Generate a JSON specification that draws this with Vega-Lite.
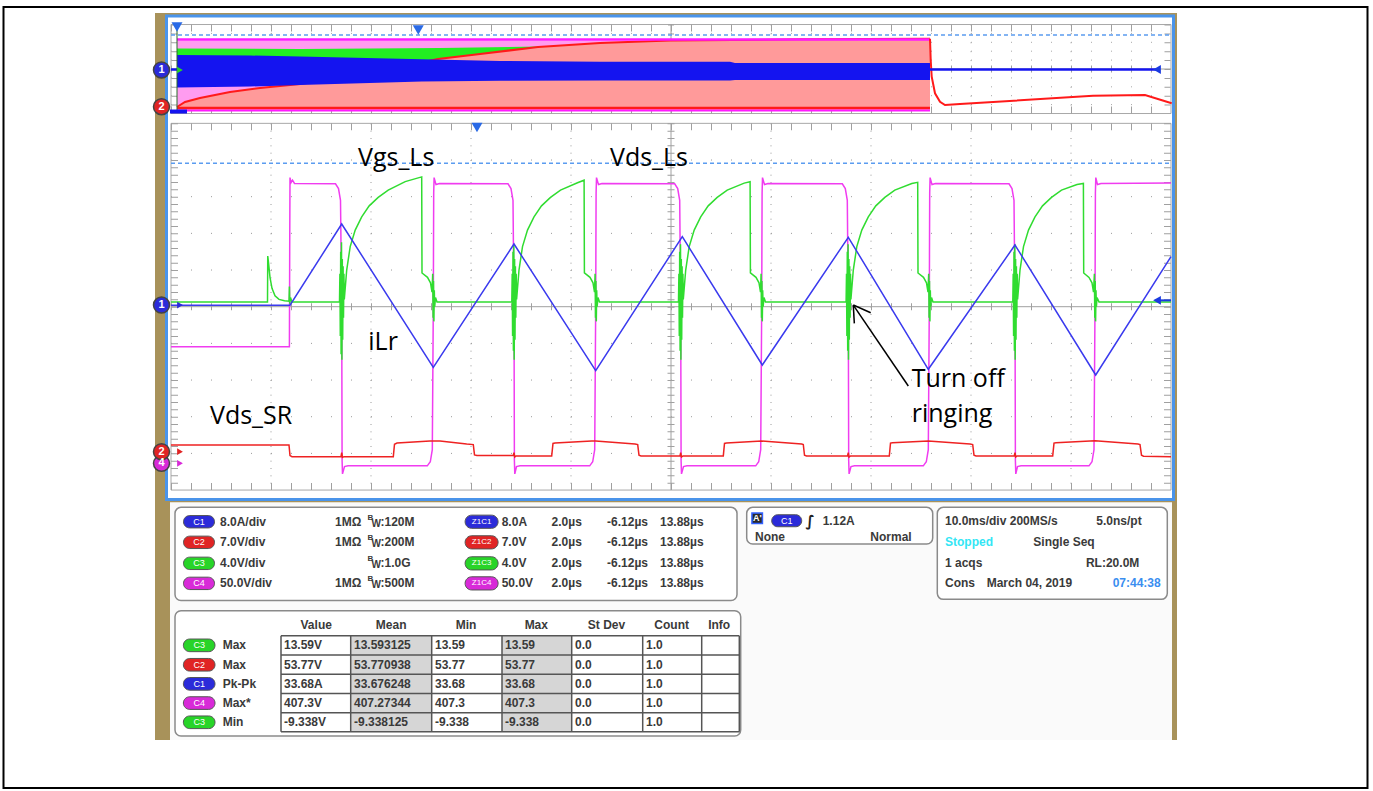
{
"$schema":"https://vega.github.io/schema/vega-lite/v6.json",
"width":1373,"height":791,
"autosize":{"type":"fit","contains":"padding"},
"padding":0,
"background":"white",
"config":{"view":{"stroke":null},"axis":{"disable":true},"text":{"font":"Liberation Sans"}},
"datasets":{
"gv":[{"t":-4.12},{"t":-2.12},{"t":-0.12},{"t":1.88},{"t":5.88},{"t":7.88},{"t":9.88},{"t":11.88}],
"gh":[{"d":-4},{"d":-3},{"d":-2},{"d":-1},{"d":1},{"d":2},{"d":3},{"d":4}],
"ogh":[{"d":5.511},{"d":5.754},{"d":5.996},{"d":6.239},{"d":6.725},{"d":6.968},{"d":7.21},{"d":7.453}],
"frames":[{"t":-6.12,"t2":13.88,"d":5,"d2":-5},{"t":-6.12,"t2":13.88,"d":7.695,"d2":5.268}],
"centers":[{"t":-6.12,"t2":13.88,"d":0,"d2":0},{"t":3.88,"t2":3.88,"d":5,"d2":-5},{"t":-6.12,"t2":13.88,"d":6.482,"d2":6.482},{"t":3.88,"t2":3.88,"d":7.695,"d2":5.268}],
"hticks":[{"d":0},{"d":4.905},{"d":-4.905},{"d":6.482},{"d":7.6},{"d":5.363}],
"vticks":[{"t":3.88},{"t":-6.05},{"t":13.81}],
"ov_pink":[{"t":-6.0,"d":7.259,"d2":5.364},{"t":9.06,"d":7.259,"d2":5.364}],
"ov_green":[{"t":-6.0,"d":7.041,"d2":6.318},{"t":-3.54,"d":7.027,"d2":6.318},{"t":-0.74,"d":7.055,"d2":6.318},{"t":1.26,"d":7.096,"d2":6.318},{"t":1.66,"d":7.1,"d2":6.318}],
"ov_red":[{"t":-6.0,"d":5.446,"d2":5.405},{"t":-5.84,"d":5.582,"d2":5.405},{"t":-5.54,"d":5.691,"d2":5.405},{"t":-4.94,"d":5.855,"d2":5.405},{"t":-4.34,"d":5.964,"d2":5.405},{"t":-3.54,"d":6.073,"d2":5.405},{"t":-2.54,"d":6.264,"d2":5.405},{"t":-1.54,"d":6.537,"d2":5.405},{"t":-0.78,"d":6.755,"d2":5.405},{"t":0.06,"d":6.891,"d2":5.405},{"t":1.22,"d":7.082,"d2":5.405},{"t":2.46,"d":7.191,"d2":5.405},{"t":3.86,"d":7.259,"d2":5.405},{"t":6.46,"d":7.292,"d2":5.405},{"t":9.06,"d":7.305,"d2":5.405}],
"ov_redtail":[{"t":9.06,"d":7.305},{"t":9.074,"d":6.727},{"t":9.094,"d":6.272},{"t":9.16,"d":5.819},{"t":9.26,"d":5.59},{"t":9.36,"d":5.5},{"t":9.66,"d":5.527},{"t":12.32,"d":5.754},{"t":13.36,"d":5.773},{"t":13.894,"d":5.546}],
"ov_blue":[{"t":-6.0,"d":6.864,"d2":5.977},{"t":-4.54,"d":6.85,"d2":6.005},{"t":-3.54,"d":6.823,"d2":6.045},{"t":-1.106,"d":6.747,"d2":6.141},{"t":0.46,"d":6.7,"d2":6.163},{"t":2.46,"d":6.681,"d2":6.168},{"t":5.06,"d":6.681,"d2":6.168},{"t":5.16,"d":6.645,"d2":6.182},{"t":9.06,"d":6.645,"d2":6.182}],
"dashes":[{"d":3.91},{"d":7.409}],
"ilr":[{"t":-6.12,"d":0.04},{"t":-3.74,"d":0.04},{"t":-2.706,"d":2.255},{"t":-0.874,"d":-1.653},{"t":0.74,"d":1.71},{"t":2.374,"d":-1.745},{"t":4.106,"d":1.909},{"t":5.706,"d":-1.59},{"t":7.426,"d":1.893},{"t":9.026,"d":-1.707},{"t":10.76,"d":1.683},{"t":12.374,"d":-1.863},{"t":13.88,"d":1.364}],
"vds":[{"t":-6.12,"d":-1.09},{"t":-3.752,"d":-1.09},{"t":-3.746,"d":1.5},{"t":-3.74,"d":3.52},{"t":-3.72,"d":3.38},{"t":-3.69,"d":3.45},{"t":-3.65,"d":3.36},
{"t":-2.83,"d":3.35},{"t":-2.77,"d":3.22},{"t":-2.73,"d":2.9},{"t":-2.706,"d":0},{"t":-2.698,"d":-4.2},{"t":-2.69,"d":-4.56},{"t":-2.65,"d":-4.36},{"t":-2.58,"d":-4.34},
{"t":-0.994,"d":-4.34},{"t":-0.934,"d":-4.23},{"t":-0.894,"d":-3.9},{"t":-0.874,"d":0},{"t":-0.866,"d":3.1},{"t":-0.858,"d":3.52},{"t":-0.82,"d":3.33},{"t":-0.75,"d":3.36},
{"t":0.62,"d":3.35},{"t":0.68,"d":3.22},{"t":0.72,"d":2.9},{"t":0.74,"d":0},{"t":0.748,"d":-4.2},{"t":0.756,"d":-4.56},{"t":0.79,"d":-4.36},{"t":0.86,"d":-4.34},
{"t":2.254,"d":-4.34},{"t":2.314,"d":-4.23},{"t":2.354,"d":-3.9},{"t":2.374,"d":0},{"t":2.382,"d":3.1},{"t":2.39,"d":3.52},{"t":2.43,"d":3.33},{"t":2.5,"d":3.36},
{"t":3.954,"d":3.35},{"t":4.014,"d":3.22},{"t":4.054,"d":2.9},{"t":4.074,"d":0},{"t":4.082,"d":-4.2},{"t":4.09,"d":-4.56},{"t":4.13,"d":-4.36},{"t":4.2,"d":-4.34},
{"t":5.574,"d":-4.34},{"t":5.634,"d":-4.23},{"t":5.674,"d":-3.9},{"t":5.694,"d":0},{"t":5.702,"d":3.1},{"t":5.71,"d":3.52},{"t":5.75,"d":3.33},{"t":5.82,"d":3.36},
{"t":7.306,"d":3.35},{"t":7.366,"d":3.22},{"t":7.406,"d":2.9},{"t":7.426,"d":0},{"t":7.434,"d":-4.2},{"t":7.442,"d":-4.56},{"t":7.48,"d":-4.36},{"t":7.55,"d":-4.34},
{"t":8.926,"d":-4.34},{"t":8.986,"d":-4.23},{"t":9.026,"d":-3.9},{"t":9.046,"d":0},{"t":9.054,"d":3.1},{"t":9.062,"d":3.52},{"t":9.1,"d":3.33},{"t":9.17,"d":3.36},
{"t":10.64,"d":3.35},{"t":10.7,"d":3.22},{"t":10.74,"d":2.9},{"t":10.76,"d":0},{"t":10.768,"d":-4.2},{"t":10.776,"d":-4.56},{"t":10.81,"d":-4.36},{"t":10.88,"d":-4.34},
{"t":12.24,"d":-4.34},{"t":12.3,"d":-4.23},{"t":12.34,"d":-3.9},{"t":12.36,"d":0},{"t":12.368,"d":3.1},{"t":12.376,"d":3.52},{"t":12.41,"d":3.33},{"t":12.48,"d":3.36},
{"t":13.88,"d":3.37}],
"vsr":[{"t":-6.12,"d":-3.773},{"t":-3.76,"d":-3.773},{"t":-3.74,"d":-4.06},{"t":-3.7,"d":-4.092},{"t":-2.72,"d":-4.09},{"t":-2.706,"d":-3.98},{"t":-2.69,"d":-4.11},{"t":-2.66,"d":-4.09},{"t":-1.674,"d":-4.09},{"t":-1.65,"d":-3.75},{"t":-1.6,"d":-3.72},{"t":-0.94,"d":-3.663},{"t":-0.74,"d":-3.66},{"t":-0.206,"d":-3.745},{"t":-0.074,"d":-3.76},{"t":-0.05,"d":-4.04},{"t":0.0,"d":-4.06},{"t":0.725,"d":-4.06},{"t":0.74,"d":-3.98},{"t":0.755,"d":-4.1},{"t":0.78,"d":-4.07},{"t":1.494,"d":-4.07},{"t":1.52,"d":-3.73},{"t":1.56,"d":-3.72},{"t":2.294,"d":-3.663},{"t":2.374,"d":-3.66},{"t":3.16,"d":-3.745},{"t":3.214,"d":-3.76},{"t":3.24,"d":-4.05},{"t":3.28,"d":-4.07},{"t":4.06,"d":-4.07},{"t":4.074,"d":-3.98},{"t":4.09,"d":-4.1},{"t":4.12,"d":-4.07},{"t":4.926,"d":-4.07},{"t":4.95,"d":-3.73},{"t":4.99,"d":-3.72},{"t":5.694,"d":-3.663},{"t":6.494,"d":-3.745},{"t":6.526,"d":-3.76},{"t":6.55,"d":-4.05},{"t":6.59,"d":-4.07},{"t":7.41,"d":-4.07},{"t":7.426,"d":-3.98},{"t":7.44,"d":-4.1},{"t":7.47,"d":-4.07},{"t":8.246,"d":-4.07},{"t":8.27,"d":-3.72},{"t":8.31,"d":-3.71},{"t":9.026,"d":-3.663},{"t":9.86,"d":-3.745},{"t":9.914,"d":-3.76},{"t":9.94,"d":-4.05},{"t":9.98,"d":-4.07},{"t":10.745,"d":-4.07},{"t":10.76,"d":-3.98},{"t":10.775,"d":-4.1},{"t":10.8,"d":-4.07},{"t":11.514,"d":-4.07},{"t":11.54,"d":-3.72},{"t":11.58,"d":-3.71},{"t":12.36,"d":-3.655},{"t":13.22,"d":-3.745},{"t":13.26,"d":-3.76},{"t":13.29,"d":-4.05},{"t":13.33,"d":-4.075},{"t":13.88,"d":-4.09}],
"vgs":[{"t":-6.12,"d":0.13},{"t":-4.19,"d":0.13},{"t":-4.185,"d":1.38},{"t":-4.17,"d":1.2},{"t":-4.14,"d":0.8},{"t":-4.1,"d":0.5},{"t":-4.04,"d":0.3},{"t":-3.96,"d":0.2},{"t":-3.85,"d":0.16},{"t":-3.76,"d":0.15},{"t":-3.752,"d":0.55},{"t":-3.744,"d":0.08},{"t":-3.73,"d":0.25},{"t":-3.7,"d":0.13},
{"t":-2.75,"d":0.13},{"t":-2.742,"d":0.9},{"t":-2.734,"d":-0.8},{"t":-2.726,"d":1.5},{"t":-2.718,"d":-1.3},{"t":-2.71,"d":1.76},{"t":-2.702,"d":-1.45},{"t":-2.694,"d":1.3},{"t":-2.686,"d":-0.9},{"t":-2.678,"d":1.1},{"t":-2.67,"d":-0.3},{"t":-2.662,"d":0.9},{"t":-2.654,"d":0.2},
{"t":-2.606,"d":1.0},{"t":-2.536,"d":1.64},{"t":-2.436,"d":2.09},{"t":-2.306,"d":2.45},{"t":-2.156,"d":2.75},{"t":-1.976,"d":2.98},{"t":-1.776,"d":3.18},{"t":-1.436,"d":3.41},{"t":-1.106,"d":3.54},
{"t":-1.1,"d":0.92},{"t":-0.99,"d":0.8},{"t":-0.93,"d":0.65},{"t":-0.9,"d":0.4},{"t":-0.886,"d":0.9},{"t":-0.878,"d":-0.3},{"t":-0.87,"d":0.7},{"t":-0.862,"d":-0.4},{"t":-0.854,"d":0.45},{"t":-0.846,"d":0.0},{"t":-0.83,"d":0.25},{"t":-0.8,"d":0.13},
{"t":0.696,"d":0.13},{"t":0.704,"d":0.9},{"t":0.712,"d":-0.8},{"t":0.72,"d":1.5},{"t":0.728,"d":-1.2},{"t":0.736,"d":1.7},{"t":0.744,"d":-1.45},{"t":0.752,"d":1.3},{"t":0.76,"d":-0.9},{"t":0.768,"d":1.1},{"t":0.776,"d":-0.3},{"t":0.784,"d":0.9},{"t":0.792,"d":0.2},
{"t":0.84,"d":1.0},{"t":0.91,"d":1.64},{"t":1.01,"d":2.09},{"t":1.14,"d":2.45},{"t":1.29,"d":2.75},{"t":1.47,"d":2.98},{"t":1.67,"d":3.18},{"t":2.01,"d":3.38},{"t":2.142,"d":3.45},
{"t":2.148,"d":0.92},{"t":2.26,"d":0.8},{"t":2.32,"d":0.65},{"t":2.35,"d":0.4},{"t":2.362,"d":0.9},{"t":2.37,"d":-0.3},{"t":2.378,"d":0.7},{"t":2.386,"d":-0.4},{"t":2.394,"d":0.45},{"t":2.402,"d":0.0},{"t":2.42,"d":0.25},{"t":2.45,"d":0.13},
{"t":4.03,"d":0.13},{"t":4.038,"d":0.9},{"t":4.046,"d":-0.8},{"t":4.054,"d":1.5},{"t":4.062,"d":-1.2},{"t":4.07,"d":1.7},{"t":4.078,"d":-1.45},{"t":4.086,"d":1.3},{"t":4.094,"d":-0.9},{"t":4.102,"d":1.1},{"t":4.11,"d":-0.3},{"t":4.118,"d":0.9},{"t":4.126,"d":0.2},
{"t":4.174,"d":1.0},{"t":4.244,"d":1.64},{"t":4.344,"d":2.09},{"t":4.474,"d":2.45},{"t":4.624,"d":2.75},{"t":4.804,"d":2.98},{"t":5.004,"d":3.18},{"t":5.344,"d":3.37},{"t":5.462,"d":3.41},
{"t":5.468,"d":0.92},{"t":5.58,"d":0.8},{"t":5.64,"d":0.65},{"t":5.67,"d":0.4},{"t":5.682,"d":0.9},{"t":5.69,"d":-0.3},{"t":5.698,"d":0.7},{"t":5.706,"d":-0.4},{"t":5.714,"d":0.45},{"t":5.722,"d":0.0},{"t":5.74,"d":0.25},{"t":5.77,"d":0.13},
{"t":7.382,"d":0.13},{"t":7.39,"d":0.9},{"t":7.398,"d":-0.8},{"t":7.406,"d":1.5},{"t":7.414,"d":-1.2},{"t":7.422,"d":1.7},{"t":7.43,"d":-1.45},{"t":7.438,"d":1.3},{"t":7.446,"d":-0.9},{"t":7.454,"d":1.1},{"t":7.462,"d":-0.3},{"t":7.47,"d":0.9},{"t":7.478,"d":0.2},
{"t":7.526,"d":1.0},{"t":7.596,"d":1.64},{"t":7.696,"d":2.09},{"t":7.826,"d":2.45},{"t":7.976,"d":2.75},{"t":8.156,"d":2.98},{"t":8.356,"d":3.18},{"t":8.696,"d":3.36},{"t":8.814,"d":3.39},
{"t":8.82,"d":0.92},{"t":8.93,"d":0.8},{"t":8.99,"d":0.65},{"t":9.02,"d":0.4},{"t":9.034,"d":0.9},{"t":9.042,"d":-0.3},{"t":9.05,"d":0.7},{"t":9.058,"d":-0.4},{"t":9.066,"d":0.45},{"t":9.074,"d":0.0},{"t":9.09,"d":0.25},{"t":9.12,"d":0.13},
{"t":10.716,"d":0.13},{"t":10.724,"d":0.9},{"t":10.732,"d":-0.8},{"t":10.74,"d":1.5},{"t":10.748,"d":-1.2},{"t":10.756,"d":1.7},{"t":10.764,"d":-1.45},{"t":10.772,"d":1.3},{"t":10.78,"d":-0.9},{"t":10.788,"d":1.1},{"t":10.796,"d":-0.3},{"t":10.804,"d":0.9},{"t":10.812,"d":0.2},
{"t":10.86,"d":1.0},{"t":10.93,"d":1.64},{"t":11.03,"d":2.09},{"t":11.16,"d":2.45},{"t":11.31,"d":2.75},{"t":11.49,"d":2.98},{"t":11.69,"d":3.18},{"t":12.0,"d":3.33},{"t":12.128,"d":3.36},
{"t":12.134,"d":0.92},{"t":12.24,"d":0.8},{"t":12.3,"d":0.65},{"t":12.33,"d":0.4},{"t":12.348,"d":0.9},{"t":12.356,"d":-0.3},{"t":12.364,"d":0.7},{"t":12.372,"d":-0.4},{"t":12.38,"d":0.45},{"t":12.388,"d":0.0},{"t":12.4,"d":0.25},{"t":12.44,"d":0.13},
{"t":13.88,"d":0.13}],
"labels":[{"label":"Vgs_Ls","t":-2.38,"d":3.836},{"label":"Vds_Ls","t":2.66,"d":3.836},{"label":"iLr","t":-2.174,"d":-1.182},{"label":"Vds_SR","t":-5.34,"d":-3.2},{"label":"Turn off","t":8.694,"d":-2.183},{"label":"ringing","t":8.694,"d":-3.137}],
"arrow":[{"t":8.626,"d":-2.163,"t2":7.526,"d2":0.045},{"t":7.526,"d":0.045,"t2":7.874,"d2":-0.165},{"t":7.526,"d":0.045,"t2":7.546,"d2":-0.454}],
"trig":[{"t":-6.0,"d":7.627},{"t":-1.174,"d":7.545},{"t":0.0,"d":4.886}],
"rarrow":[{"t":13.6,"d":6.468},{"t":13.6,"d":0.173}],
"chmarks":[{"ch":"C1","label":"1","t":-6.31,"d":6.455},{"ch":"C2","label":"2","t":-6.31,"d":5.454},{"ch":"C1","label":"1","t":-6.31,"d":0.045},{"ch":"C4","label":"4","t":-6.31,"d":-4.272},{"ch":"C2","label":"2","t":-6.31,"d":-3.955}],
"charrows":[{"ch":"C1","t":-5.94,"d":0.045},{"ch":"C2","t":-5.94,"d":-3.955},{"ch":"C4","t":-5.94,"d":-4.272},{"ch":"C3","t":-5.94,"d":6.455}],
"panels":[{"t":-6.04,"t2":5.2,"d":-5.472,"d2":-8.013},{"t":5.394,"t2":9.114,"d":-5.472,"d2":-6.473},{"t":9.206,"t2":13.806,"d":-5.472,"d2":-7.981},{"t":-6.04,"t2":5.274,"d":-8.292,"d2":-11.709}],
"settings":[{"ch":"C1","zch":"Z1C1","d":-5.864,"scale":"8.0A/div","imp":"1MΩ","bw":":120M","zscale":"8.0A","zpos":"2.0µs","start":"-6.12µs","end":"13.88µs"},
{"ch":"C2","zch":"Z1C2","d":-6.426,"scale":"7.0V/div","imp":"1MΩ","bw":":200M","zscale":"7.0V","zpos":"2.0µs","start":"-6.12µs","end":"13.88µs"},
{"ch":"C3","zch":"Z1C3","d":-6.999,"scale":"4.0V/div","imp":"","bw":":1.0G","zscale":"4.0V","zpos":"2.0µs","start":"-6.12µs","end":"13.88µs"},
{"ch":"C4","zch":"Z1C4","d":-7.545,"scale":"50.0V/div","imp":"1MΩ","bw":":500M","zscale":"50.0V","zpos":"2.0µs","start":"-6.12µs","end":"13.88µs"}],
"meas":[{"ch":"C3","m":"Max","v":"13.59V","mean":"13.593125","min":"13.59","max":"13.59","sd":"0.0","n":"1.0","d":-9.235},
{"ch":"C2","m":"Max","v":"53.77V","mean":"53.770938","min":"53.77","max":"53.77","sd":"0.0","n":"1.0","d":-9.765},
{"ch":"C1","m":"Pk-Pk","v":"33.68A","mean":"33.676248","min":"33.68","max":"33.68","sd":"0.0","n":"1.0","d":-10.285},
{"ch":"C4","m":"Max*","v":"407.3V","mean":"407.27344","min":"407.3","max":"407.3","sd":"0.0","n":"1.0","d":-10.809},
{"ch":"C3","m":"Min","v":"-9.338V","mean":"-9.338125","min":"-9.338","max":"-9.338","sd":"0.0","n":"1.0","d":-11.333}],
"hdr":[{"h":"Value","t":-3.216},{"h":"Mean","t":-1.716},{"h":"Min","t":-0.22},{"h":"Max","t":1.186},{"h":"St Dev","t":2.59},{"h":"Count","t":3.894},{"h":"Info","t":4.844}],
"tcols":[{"t":-3.92},{"t":-2.526},{"t":-0.906},{"t":0.5},{"t":1.894},{"t":3.314},{"t":4.494},{"t":5.246}],
"trows":[{"d":-8.974},{"d":-9.5},{"d":-10.026},{"d":-10.545},{"d":-11.074},{"d":-11.592}],
"gray":[{"t":-2.526,"t2":-0.906},{"t":0.5,"t2":1.894}],
"info_l":[{"txt":"10.0ms/div 200MS/s","t":9.36,"d":-5.837},{"txt":"Single Seq","t":11.126,"d":-6.41},{"txt":"1 acqs","t":9.36,"d":-6.999},{"txt":"Cons","t":9.36,"d":-7.545},{"txt":"March 04, 2019","t":10.194,"d":-7.545},{"txt":"1.12A","t":6.914,"d":-5.837},{"txt":"None","t":5.56,"d":-6.29}],
"info_r":[{"txt":"5.0ns/pt","t":13.294,"d":-5.837},{"txt":"RL:20.0M","t":13.246,"d":-6.999},{"txt":"Normal","t":8.694,"d":-6.29}]
},
"layer":[
{"data":{"values":[{}]},"mark":{"type":"rect","fill":"white","stroke":"black","strokeWidth":2},"encoding":{"x":{"datum":-9.47,"type":"quantitative","scale":{"domain":[-9.54,17.92],"nice":false,"zero":false}},"x2":{"datum":17.81},"y":{"datum":8.173,"type":"quantitative","scale":{"domain":[-13.207,8.3637],"nice":false,"zero":false}},"y2":{"datum":-13.127}}},
{"data":{"values":[{}]},"mark":{"type":"rect","fill":"#a8925a"},"encoding":{"x":{"datum":-6.44,"type":"quantitative"},"x2":{"datum":14.0},"y":{"datum":8.009,"type":"quantitative"},"y2":{"datum":-11.818}}},
{"data":{"values":[{}]},"mark":{"type":"rect","fill":"white","stroke":"#4a94ea","strokeWidth":3},"encoding":{"x":{"datum":-6.21,"type":"quantitative"},"x2":{"datum":13.93},"y":{"datum":7.927,"type":"quantitative"},"y2":{"datum":-5.259}}},
{"data":{"values":[{}]},"mark":{"type":"rect","fill":"#fafafa"},"encoding":{"x":{"datum":-6.14,"type":"quantitative"},"x2":{"datum":13.9},"y":{"datum":-5.33,"type":"quantitative"},"y2":{"datum":-11.818}}},
{"data":{"name":"gv"},"mark":{"type":"rule","color":"#9a9a9a","strokeWidth":1,"strokeDash":[1,6.333]},"encoding":{"x":{"field":"t","type":"quantitative"},"y":{"datum":5,"type":"quantitative"},"y2":{"datum":-5}}},
{"data":{"name":"gh"},"mark":{"type":"rule","color":"#9a9a9a","strokeWidth":1,"strokeDash":[1,19]},"encoding":{"x":{"datum":-6.12,"type":"quantitative"},"x2":{"datum":13.88},"y":{"field":"d","type":"quantitative"}}},
{"data":{"name":"gv"},"mark":{"type":"rule","color":"#a8a8a8","strokeWidth":1,"strokeDash":[1,7.9]},"encoding":{"x":{"field":"t","type":"quantitative"},"y":{"datum":7.695,"type":"quantitative"},"y2":{"datum":5.268}}},
{"data":{"name":"ogh"},"mark":{"type":"rule","color":"#a8a8a8","strokeWidth":1,"strokeDash":[1,19]},"encoding":{"x":{"datum":-6.12,"type":"quantitative"},"x2":{"datum":13.88},"y":{"field":"d","type":"quantitative"}}},
{"data":{"name":"frames"},"mark":{"type":"rect","fill":"transparent","stroke":"#a8a8a8","strokeWidth":1},"encoding":{"x":{"field":"t","type":"quantitative"},"x2":{"field":"t2"},"y":{"field":"d","type":"quantitative"},"y2":{"field":"d2"}}},
{"data":{"name":"centers"},"mark":{"type":"rule","color":"#a0a0a0","strokeWidth":1},"encoding":{"x":{"field":"t","type":"quantitative"},"x2":{"field":"t2"},"y":{"field":"d","type":"quantitative"},"y2":{"field":"d2"}}},
{"data":{"name":"hticks"},"mark":{"type":"rule","color":"#a0a0a0","strokeWidth":7,"strokeDash":[1,19]},"encoding":{"x":{"datum":-6.12,"type":"quantitative"},"x2":{"datum":13.88},"y":{"field":"d","type":"quantitative"}}},
{"data":{"name":"vticks"},"mark":{"type":"rule","color":"#a0a0a0","strokeWidth":7,"strokeDash":[1,6.333]},"encoding":{"x":{"field":"t","type":"quantitative"},"y":{"datum":5,"type":"quantitative"},"y2":{"datum":-5}}},
{"data":{"name":"vticks"},"mark":{"type":"rule","color":"#a0a0a0","strokeWidth":6,"strokeDash":[1,7.9]},"encoding":{"x":{"field":"t","type":"quantitative"},"y":{"datum":7.695,"type":"quantitative"},"y2":{"datum":5.268}}},
{"data":{"name":"ov_pink"},"mark":{"type":"area","color":"#ff9cf0","opacity":1},"encoding":{"x":{"field":"t","type":"quantitative"},"y":{"field":"d","type":"quantitative"},"y2":{"field":"d2"}}},
{"data":{"name":"ov_green"},"mark":{"type":"area","color":"#22ee22","opacity":1},"encoding":{"x":{"field":"t","type":"quantitative"},"y":{"field":"d","type":"quantitative"},"y2":{"field":"d2"}}},
{"data":{"name":"ov_red"},"mark":{"type":"area","color":"#ff9a9a","opacity":1},"encoding":{"x":{"field":"t","type":"quantitative"},"y":{"field":"d","type":"quantitative"},"y2":{"field":"d2"}}},
{"data":{"name":"ov_red"},"mark":{"type":"line","color":"#ff1a1a","strokeWidth":2},"encoding":{"x":{"field":"t","type":"quantitative"},"y":{"field":"d","type":"quantitative"}}},
{"data":{"name":"ov_blue"},"mark":{"type":"area","color":"#1414f0","opacity":1},"encoding":{"x":{"field":"t","type":"quantitative"},"y":{"field":"d","type":"quantitative"},"y2":{"field":"d2"}}},
{"data":{"values":[{}]},"mark":{"type":"rule","color":"#ff1aff","strokeWidth":2.5},"encoding":{"x":{"datum":-6.0,"type":"quantitative"},"x2":{"datum":9.06},"y":{"datum":7.286,"type":"quantitative"}}},
{"data":{"values":[{}]},"mark":{"type":"rule","color":"#ff1aff","strokeWidth":2},"encoding":{"x":{"datum":-6.0,"type":"quantitative"},"x2":{"datum":9.06},"y":{"datum":5.35,"type":"quantitative"}}},
{"data":{"values":[{}]},"mark":{"type":"rule","color":"#ff1a1a","strokeWidth":2.5},"encoding":{"x":{"datum":-6.0,"type":"quantitative"},"x2":{"datum":9.06},"y":{"datum":5.418,"type":"quantitative"}}},
{"data":{"name":"ov_redtail"},"mark":{"type":"line","color":"#ff1a1a","strokeWidth":2},"encoding":{"x":{"field":"t","type":"quantitative"},"y":{"field":"d","type":"quantitative"}}},
{"data":{"values":[{}]},"mark":{"type":"rule","color":"#1414f0","strokeWidth":2.5},"encoding":{"x":{"datum":9.06,"type":"quantitative"},"x2":{"datum":13.66},"y":{"datum":6.468,"type":"quantitative"}}},
{"data":{"values":[{}]},"mark":{"type":"rule","color":"#1414f0","strokeWidth":2.5},"encoding":{"x":{"datum":-6.12,"type":"quantitative"},"x2":{"datum":-6.0},"y":{"datum":6.468,"type":"quantitative"}}},
{"data":{"values":[{}]},"mark":{"type":"rule","color":"#2b6b2b","strokeWidth":1},"encoding":{"x":{"datum":-6.0,"type":"quantitative"},"y":{"datum":7.655,"type":"quantitative"},"y2":{"datum":5.364}}},
{"data":{"values":[{}]},"mark":{"type":"rect","fill":"#1414f0"},"encoding":{"x":{"datum":-6.14,"type":"quantitative"},"x2":{"datum":-5.8},"y":{"datum":5.377,"type":"quantitative"},"y2":{"datum":5.268}}},
{"data":{"name":"dashes"},"mark":{"type":"rule","color":"#5b9cf0","strokeWidth":1.5,"strokeDash":[4,3]},"encoding":{"x":{"datum":-6.12,"type":"quantitative"},"x2":{"datum":13.88},"y":{"field":"d","type":"quantitative"}}},
{"data":{"name":"vds"},"mark":{"type":"line","color":"#f03cf0","strokeWidth":1.5},"encoding":{"x":{"field":"t","type":"quantitative"},"y":{"field":"d","type":"quantitative"}}},
{"data":{"name":"vsr"},"mark":{"type":"line","color":"#ee2222","strokeWidth":1.5},"encoding":{"x":{"field":"t","type":"quantitative"},"y":{"field":"d","type":"quantitative"}}},
{"data":{"name":"vgs"},"mark":{"type":"line","color":"#30dc30","strokeWidth":1.5},"encoding":{"x":{"field":"t","type":"quantitative"},"y":{"field":"d","type":"quantitative"}}},
{"data":{"name":"ilr"},"mark":{"type":"line","color":"#3a3aee","strokeWidth":1.5},"encoding":{"x":{"field":"t","type":"quantitative"},"y":{"field":"d","type":"quantitative"}}},
{"data":{"values":[{}]},"mark":{"type":"rule","color":"#1a3ae0","strokeWidth":2},"encoding":{"x":{"datum":13.6,"type":"quantitative"},"x2":{"datum":13.88},"y":{"datum":0.173,"type":"quantitative"}}},
{"data":{"name":"rarrow"},"mark":{"type":"point","shape":"triangle-left","filled":true,"size":80,"color":"#1a3ae0","opacity":1},"encoding":{"x":{"field":"t","type":"quantitative"},"y":{"field":"d","type":"quantitative"}}},
{"data":{"name":"trig"},"mark":{"type":"point","shape":"triangle-down","filled":true,"size":120,"color":"#2a6ae6","opacity":1},"encoding":{"x":{"field":"t","type":"quantitative"},"y":{"field":"d","type":"quantitative"}}},
{"data":{"name":"charrows"},"mark":{"type":"point","shape":"triangle-right","filled":true,"size":45,"opacity":1},"encoding":{"x":{"field":"t","type":"quantitative"},"y":{"field":"d","type":"quantitative"},"color":{"field":"ch","type":"nominal","scale":{"domain":["C1","C2","C3","C4"],"range":["#2b2bd9","#e02424","#28d428","#d82ad8"]},"legend":null}}},
{"data":{"name":"chmarks"},"mark":{"type":"point","shape":"circle","filled":true,"size":256,"stroke":"#444444","strokeWidth":1.5,"opacity":1},"encoding":{"x":{"field":"t","type":"quantitative"},"y":{"field":"d","type":"quantitative"},"color":{"field":"ch","type":"nominal","scale":{"domain":["C1","C2","C3","C4"],"range":["#2b2bd9","#e02424","#28d428","#d82ad8"]},"legend":null}}},
{"data":{"name":"chmarks"},"mark":{"type":"text","color":"white","fontSize":11,"fontWeight":"bold","align":"center","baseline":"middle"},"encoding":{"x":{"field":"t","type":"quantitative"},"y":{"field":"d","type":"quantitative"},"text":{"field":"label"}}},
{"data":{"name":"labels"},"mark":{"type":"text","font":"Open Sans","fontSize":25,"color":"black","align":"left","baseline":"alphabetic"},"encoding":{"x":{"field":"t","type":"quantitative"},"y":{"field":"d","type":"quantitative"},"text":{"field":"label"}}},
{"data":{"name":"arrow"},"mark":{"type":"rule","color":"black","strokeWidth":1.5},"encoding":{"x":{"field":"t","type":"quantitative"},"x2":{"field":"t2"},"y":{"field":"d","type":"quantitative"},"y2":{"field":"d2"}}},
{"data":{"name":"panels"},"mark":{"type":"rect","fill":"white","stroke":"#8a8a8a","strokeWidth":1.5,"cornerRadius":6},"encoding":{"x":{"field":"t","type":"quantitative"},"x2":{"field":"t2"},"y":{"field":"d","type":"quantitative"},"y2":{"field":"d2"}}},
{"data":{"name":"settings"},"mark":{"type":"point","shape":"M-0.6,-0.4L0.6,-0.4A0.4,0.4,0,0,1,0.6,0.4L-0.6,0.4A0.4,0.4,0,0,1,-0.6,-0.4Z","filled":true,"size":961,"stroke":"#555555","strokeWidth":1,"opacity":1},"encoding":{"x":{"datum":-5.56,"type":"quantitative"},"y":{"field":"d","type":"quantitative"},"color":{"field":"ch","type":"nominal","scale":{"domain":["C1","C2","C3","C4"],"range":["#2b2bd9","#e02424","#28d428","#d82ad8"]},"legend":null}}},
{"data":{"name":"settings"},"mark":{"type":"text","color":"white","fontSize":9,"align":"center","baseline":"middle"},"encoding":{"x":{"datum":-5.56,"type":"quantitative"},"y":{"field":"d","type":"quantitative"},"text":{"field":"ch"}}},
{"data":{"name":"settings"},"mark":{"type":"point","shape":"M-0.6,-0.4L0.6,-0.4A0.4,0.4,0,0,1,0.6,0.4L-0.6,0.4A0.4,0.4,0,0,1,-0.6,-0.4Z","filled":true,"size":1089,"stroke":"#555555","strokeWidth":1,"opacity":1},"encoding":{"x":{"datum":0.092,"type":"quantitative"},"y":{"field":"d","type":"quantitative"},"color":{"field":"ch","type":"nominal","scale":{"domain":["C1","C2","C3","C4"],"range":["#2b2bd9","#e02424","#28d428","#d82ad8"]},"legend":null}}},
{"data":{"name":"settings"},"mark":{"type":"text","color":"white","fontSize":8,"align":"center","baseline":"middle"},"encoding":{"x":{"datum":0.092,"type":"quantitative"},"y":{"field":"d","type":"quantitative"},"text":{"field":"zch"}}},
{"data":{"name":"settings"},"mark":{"type":"text","fontSize":12,"fontWeight":"bold","color":"#3a3a3a","align":"left","baseline":"middle"},"encoding":{"x":{"datum":-5.14,"type":"quantitative"},"y":{"field":"d","type":"quantitative"},"text":{"field":"scale"}}},
{"data":{"name":"settings"},"mark":{"type":"text","fontSize":12,"fontWeight":"bold","color":"#3a3a3a","align":"left","baseline":"middle"},"encoding":{"x":{"datum":-2.84,"type":"quantitative"},"y":{"field":"d","type":"quantitative"},"text":{"field":"imp"}}},
{"data":{"name":"settings"},"mark":{"type":"text","fontSize":8,"fontWeight":"bold","color":"#3a3a3a","align":"left","baseline":"middle","dy":-4,"text":"B"},"encoding":{"x":{"datum":-2.188,"type":"quantitative"},"y":{"field":"d","type":"quantitative"}}},
{"data":{"name":"settings"},"mark":{"type":"text","fontSize":10,"fontWeight":"bold","color":"#3a3a3a","align":"left","baseline":"middle","dy":2,"text":"W"},"encoding":{"x":{"datum":-2.11,"type":"quantitative"},"y":{"field":"d","type":"quantitative"}}},
{"data":{"name":"settings"},"mark":{"type":"text","fontSize":12,"fontWeight":"bold","color":"#3a3a3a","align":"left","baseline":"middle"},"encoding":{"x":{"datum":-1.93,"type":"quantitative"},"y":{"field":"d","type":"quantitative"},"text":{"field":"bw"}}},
{"data":{"name":"settings"},"mark":{"type":"text","fontSize":12,"fontWeight":"bold","color":"#3a3a3a","align":"left","baseline":"middle"},"encoding":{"x":{"datum":0.494,"type":"quantitative"},"y":{"field":"d","type":"quantitative"},"text":{"field":"zscale"}}},
{"data":{"name":"settings"},"mark":{"type":"text","fontSize":12,"fontWeight":"bold","color":"#3a3a3a","align":"left","baseline":"middle"},"encoding":{"x":{"datum":1.492,"type":"quantitative"},"y":{"field":"d","type":"quantitative"},"text":{"field":"zpos"}}},
{"data":{"name":"settings"},"mark":{"type":"text","fontSize":12,"fontWeight":"bold","color":"#3a3a3a","align":"left","baseline":"middle"},"encoding":{"x":{"datum":2.602,"type":"quantitative"},"y":{"field":"d","type":"quantitative"},"text":{"field":"start"}}},
{"data":{"name":"settings"},"mark":{"type":"text","fontSize":12,"fontWeight":"bold","color":"#3a3a3a","align":"left","baseline":"middle"},"encoding":{"x":{"datum":3.66,"type":"quantitative"},"y":{"field":"d","type":"quantitative"},"text":{"field":"end"}}},
{"data":{"values":[{}]},"mark":{"type":"point","shape":"square","filled":true,"size":110,"color":"#2a2a2a","stroke":"#3060ff","strokeWidth":1.5,"opacity":1},"encoding":{"x":{"datum":5.604,"type":"quantitative"},"y":{"datum":-5.772,"type":"quantitative"}}},
{"data":{"values":[{}]},"mark":{"type":"text","text":"A'","color":"white","fontSize":9,"fontWeight":"bold","align":"center","baseline":"middle"},"encoding":{"x":{"datum":5.604,"type":"quantitative"},"y":{"datum":-5.772,"type":"quantitative"}}},
{"data":{"values":[{"ch":"C1"}]},"mark":{"type":"point","shape":"M-0.6,-0.4L0.6,-0.4A0.4,0.4,0,0,1,0.6,0.4L-0.6,0.4A0.4,0.4,0,0,1,-0.6,-0.4Z","filled":true,"size":900,"stroke":"#555555","strokeWidth":1,"opacity":1},"encoding":{"x":{"datum":6.194,"type":"quantitative"},"y":{"datum":-5.837,"type":"quantitative"},"color":{"field":"ch","type":"nominal","scale":{"domain":["C1","C2","C3","C4"],"range":["#2b2bd9","#e02424","#28d428","#d82ad8"]},"legend":null}}},
{"data":{"values":[{}]},"mark":{"type":"text","text":"C1","color":"white","fontSize":9,"align":"center","baseline":"middle"},"encoding":{"x":{"datum":6.194,"type":"quantitative"},"y":{"datum":-5.837,"type":"quantitative"}}},
{"data":{"values":[{}]},"mark":{"type":"text","text":"∫","color":"#222222","fontSize":15,"fontWeight":"bold","align":"center","baseline":"middle","font":"DejaVu Sans"},"encoding":{"x":{"datum":6.66,"type":"quantitative"},"y":{"datum":-5.837,"type":"quantitative"}}},
{"data":{"name":"info_l"},"mark":{"type":"text","fontSize":12,"fontWeight":"bold","color":"#3a3a3a","align":"left","baseline":"middle"},"encoding":{"x":{"field":"t","type":"quantitative"},"y":{"field":"d","type":"quantitative"},"text":{"field":"txt"}}},
{"data":{"name":"info_r"},"mark":{"type":"text","fontSize":12,"fontWeight":"bold","color":"#3a3a3a","align":"right","baseline":"middle"},"encoding":{"x":{"field":"t","type":"quantitative"},"y":{"field":"d","type":"quantitative"},"text":{"field":"txt"}}},
{"data":{"values":[{}]},"mark":{"type":"text","text":"Stopped","fontSize":12,"fontWeight":"bold","color":"#33e6f5","align":"left","baseline":"middle"},"encoding":{"x":{"datum":9.36,"type":"quantitative"},"y":{"datum":-6.41,"type":"quantitative"}}},
{"data":{"values":[{}]},"mark":{"type":"text","text":"07:44:38","fontSize":12,"fontWeight":"bold","color":"#3a8ef0","align":"right","baseline":"middle"},"encoding":{"x":{"datum":13.674,"type":"quantitative"},"y":{"datum":-7.545,"type":"quantitative"}}},
{"data":{"values":[{}]},"mark":{"type":"rect","fill":"white"},"encoding":{"x":{"datum":-3.92,"type":"quantitative"},"x2":{"datum":5.246},"y":{"datum":-8.974,"type":"quantitative"},"y2":{"datum":-11.592}}},
{"data":{"name":"gray"},"mark":{"type":"rect","fill":"#d6d6d6"},"encoding":{"x":{"field":"t","type":"quantitative"},"x2":{"field":"t2"},"y":{"datum":-8.974,"type":"quantitative"},"y2":{"datum":-11.592}}},
{"data":{"name":"tcols"},"mark":{"type":"rule","color":"#555555","strokeWidth":1.5},"encoding":{"x":{"field":"t","type":"quantitative"},"y":{"datum":-8.974,"type":"quantitative"},"y2":{"datum":-11.592}}},
{"data":{"name":"trows"},"mark":{"type":"rule","color":"#555555","strokeWidth":1.5},"encoding":{"x":{"datum":-3.92,"type":"quantitative"},"x2":{"datum":5.246},"y":{"field":"d","type":"quantitative"}}},
{"data":{"name":"hdr"},"mark":{"type":"text","fontSize":12,"fontWeight":"bold","color":"#3a3a3a","align":"center","baseline":"middle"},"encoding":{"x":{"field":"t","type":"quantitative"},"y":{"datum":-8.682,"type":"quantitative"},"text":{"field":"h"}}},
{"data":{"name":"meas"},"mark":{"type":"point","shape":"M-0.6,-0.4L0.6,-0.4A0.4,0.4,0,0,1,0.6,0.4L-0.6,0.4A0.4,0.4,0,0,1,-0.6,-0.4Z","filled":true,"size":1000,"stroke":"#555555","strokeWidth":1,"opacity":1},"encoding":{"x":{"datum":-5.556,"type":"quantitative"},"y":{"field":"d","type":"quantitative"},"color":{"field":"ch","type":"nominal","scale":{"domain":["C1","C2","C3","C4"],"range":["#2b2bd9","#e02424","#28d428","#d82ad8"]},"legend":null}}},
{"data":{"name":"meas"},"mark":{"type":"text","color":"white","fontSize":9,"align":"center","baseline":"middle"},"encoding":{"x":{"datum":-5.556,"type":"quantitative"},"y":{"field":"d","type":"quantitative"},"text":{"field":"ch"}}},
{"data":{"name":"meas"},"mark":{"type":"text","fontSize":12,"fontWeight":"bold","color":"#3a3a3a","align":"left","baseline":"middle"},"encoding":{"x":{"datum":-5.086,"type":"quantitative"},"y":{"field":"d","type":"quantitative"},"text":{"field":"m"}}},
{"data":{"name":"meas"},"mark":{"type":"text","fontSize":12,"fontWeight":"bold","color":"#3a3a3a","align":"left","baseline":"middle"},"encoding":{"x":{"datum":-3.86,"type":"quantitative"},"y":{"field":"d","type":"quantitative"},"text":{"field":"v"}}},
{"data":{"name":"meas"},"mark":{"type":"text","fontSize":12,"fontWeight":"bold","color":"#3a3a3a","align":"left","baseline":"middle"},"encoding":{"x":{"datum":-2.46,"type":"quantitative"},"y":{"field":"d","type":"quantitative"},"text":{"field":"mean"}}},
{"data":{"name":"meas"},"mark":{"type":"text","fontSize":12,"fontWeight":"bold","color":"#3a3a3a","align":"left","baseline":"middle"},"encoding":{"x":{"datum":-0.84,"type":"quantitative"},"y":{"field":"d","type":"quantitative"},"text":{"field":"min"}}},
{"data":{"name":"meas"},"mark":{"type":"text","fontSize":12,"fontWeight":"bold","color":"#3a3a3a","align":"left","baseline":"middle"},"encoding":{"x":{"datum":0.56,"type":"quantitative"},"y":{"field":"d","type":"quantitative"},"text":{"field":"max"}}},
{"data":{"name":"meas"},"mark":{"type":"text","fontSize":12,"fontWeight":"bold","color":"#3a3a3a","align":"left","baseline":"middle"},"encoding":{"x":{"datum":1.96,"type":"quantitative"},"y":{"field":"d","type":"quantitative"},"text":{"field":"sd"}}},
{"data":{"name":"meas"},"mark":{"type":"text","fontSize":12,"fontWeight":"bold","color":"#3a3a3a","align":"left","baseline":"middle"},"encoding":{"x":{"datum":3.38,"type":"quantitative"},"y":{"field":"d","type":"quantitative"},"text":{"field":"n"}}}
]
}
